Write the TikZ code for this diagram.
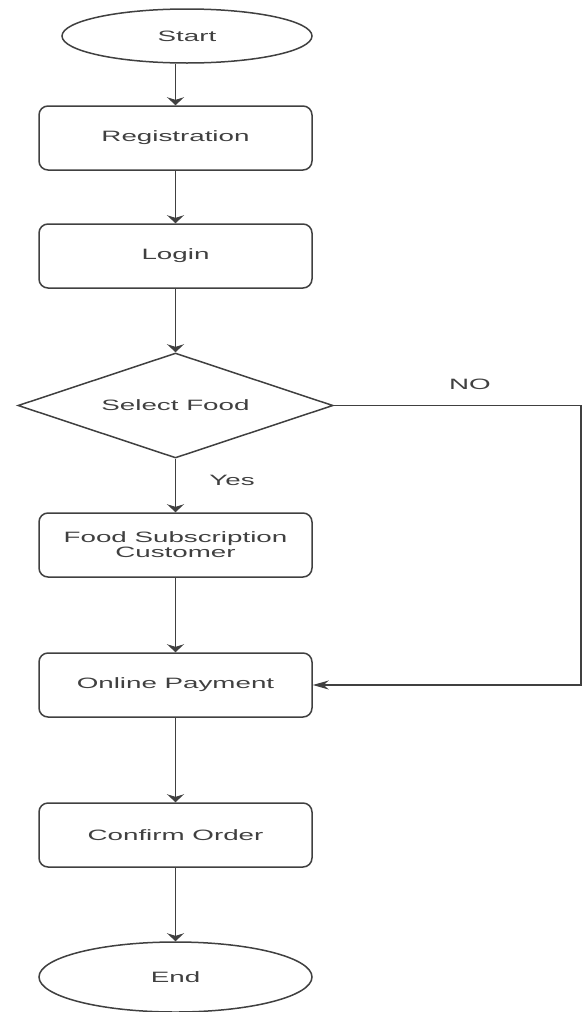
\documentclass[tikz,border=0pt]{standalone}
\usepackage{fontspec}
\newfontfamily\flowfont[FakeStretch=1.85]{Liberation Sans}
\usetikzlibrary{shapes.geometric}
\usetikzlibrary{arrows.meta}

\begin{document}
\begin{tikzpicture}[x=1pt,y=-1pt,line width=1.5pt,color=black!75,
        >={Stealth[length=8pt,width=17pt]},
        font=\flowfont\fontsize{15}{15}\selectfont,
        terminal/.style={ellipse,draw,inner sep=0pt},
        process/.style={rectangle,rounded corners=9pt,draw,minimum width=273pt,
                minimum height=64pt,inner sep=0pt,align=center},
        decision/.style={diamond,aspect=3,draw,minimum width=315pt,
                minimum height=105pt,inner sep=0pt},
        answer/.style={inner sep=0pt}]
        % fix the page
        \useasboundingbox (0,0) rectangle (585,1012);

        % draw the steps
        \node[terminal,minimum width=250pt,minimum height=54pt] (start) at (187,36) {Start};
        \node[process] (reg) at (175.5,138) {Registration};
        \node[process] (login) at (175.5,256) {Login};
        \node[decision] (food) at (175.5,405.5) {Select Food};
        \node[process] (sub) at (175.5,545) {Food Subscription\\Customer};
        \node[process] (pay) at (175.5,685) {Online Payment};
        \node[process] (confirm) at (175.5,835) {Confirm Order};
        \node[terminal,minimum width=273pt,minimum height=70pt] (stop) at (175.5,977) {End};

        % the answers of the choice
        \node[answer] (yes) at (232,480) {Yes};
        \node[answer] (no) at (470,384) {NO};

        % draw the arrows down the chain
        \draw[->] (start.south -| reg.north) -- (reg.north);
        \foreach \a/\b in {reg/login,login/food,food/sub,sub/pay,pay/confirm,confirm/stop}
                \draw[->] (\a) -- (\b);

        % the NO way round to the payment
        \coordinate (turn) at (581,405.5);
        \draw[->,>={Stealth[length=16pt,width=9pt]}] (food.east) -- (turn) |- (pay.east);
\end{tikzpicture}
\end{document}
